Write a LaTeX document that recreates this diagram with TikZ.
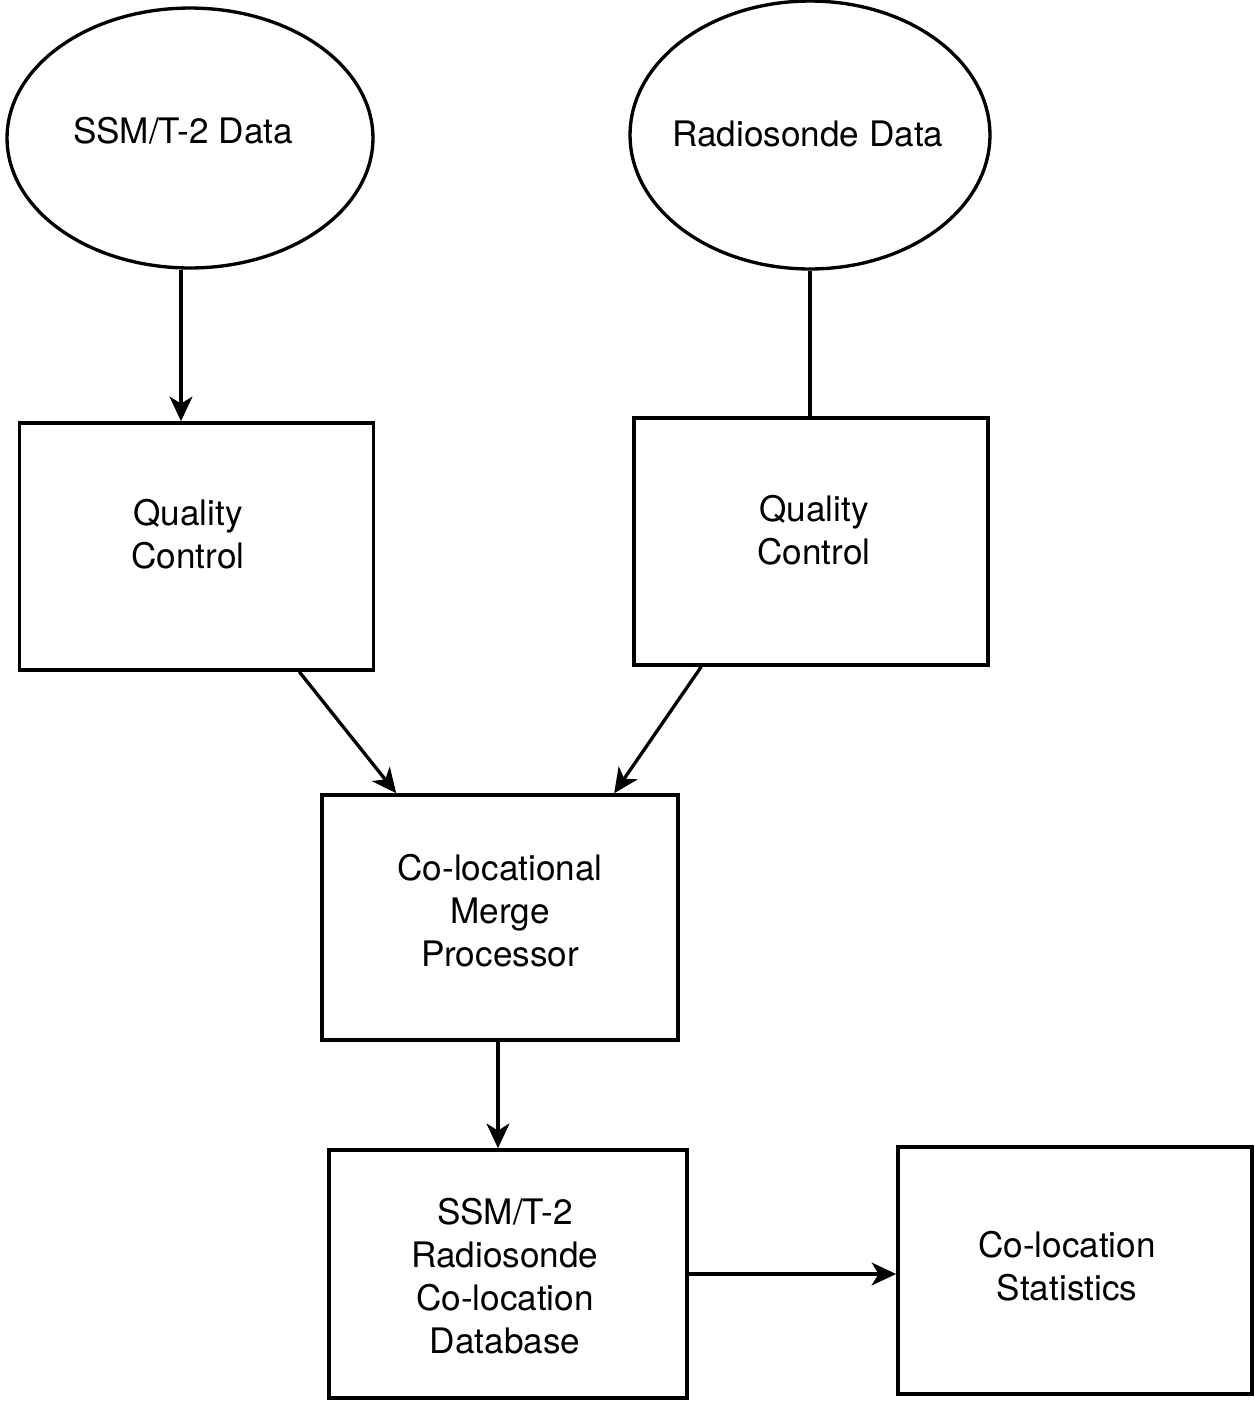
\documentclass[tikz,border=0pt]{standalone}
\usepackage{fontspec}
\setmainfont{TeX Gyre Heros}
\usetikzlibrary{arrows.meta}
\usetikzlibrary{calc}
\usetikzlibrary{shapes.geometric}
\tikzset{
    datablob/.style={draw, ellipse, line width=1.9pt, inner sep=0pt},
    procbox/.style={draw, rectangle, line width=2.1pt,
        minimum width=7.08cm, minimum height=4.94cm},
    boxtext/.style={align=center, font=\fontsize{20}{24.5}\selectfont},
    flow/.style={line width=1.9pt, -{Stealth[length=14pt,width=13pt,inset=4pt]}},
    plain/.style={line width=1.9pt}
}
\begin{document}
\begin{tikzpicture}[x=0.02cm,y=-0.02cm]
		\useasboundingbox (0,0) rectangle (1255,1401);

		% data sources
		\node[datablob, minimum width=7.32cm, minimum height=5.2cm] (ssm) at (190,138) {};
	    \node[boxtext] (ssmtxt) at (183,131) {SSM/T-2 Data};
		\node[datablob, minimum width=7.2cm, minimum height=5.36cm] (radio) at (810,135) {};
	    \node[boxtext] (radiotxt) at (808,134) {Radiosonde Data};

		% processing boxes
		\node[procbox] (qc1) at (196.5,546.5) {};
	    \node[boxtext] (qc1txt) at (188,534) {Quality\\Control};
		\node[procbox] (qc2) at (811,541.5) {};
	    \node[boxtext] (qc2txt) at (814,530) {Quality\\Control};
		\node[procbox, minimum width=7.12cm, minimum height=4.9cm] (merge) at (500,917.5) {};
	    \node[boxtext] (mergetxt) at (500,911) {Co-locational\\Merge\\ Processor};
		\node[procbox, minimum width=7.16cm, minimum height=4.96cm] (db) at (508,1274) {};
	    \node[boxtext] (dbtxt) at (505,1276) {SSM/T-2\\Radiosonde\\Co-location\\Database};
		\node[procbox] (stats) at (1075,1270.5) {};
	    \node[boxtext] (statstxt) at (1067,1266) {Co-location\\Statistics};

		% arrows
		\coordinate (ssmout) at ($(ssm.south)+(-9,0)$);
		\draw[flow] (ssmout) -- (ssmout |- qc1.north);
		\draw[plain] (radio.south) -- (radio.south |- qc2.north);
		\draw[flow] ($(qc1.south east)+(-76,0)$) -- ($(merge.north west)+(76,0)$);
		\draw[flow] ($(qc2.south west)+(69,0)$) -- ($(merge.north west)+(294,0)$);
		\draw[flow] (merge.south -| 498,0) -- (db.north -| 498,0);
		\draw[flow] (db.east) -- (db.east -| stats.west);
\end{tikzpicture}
\end{document}
